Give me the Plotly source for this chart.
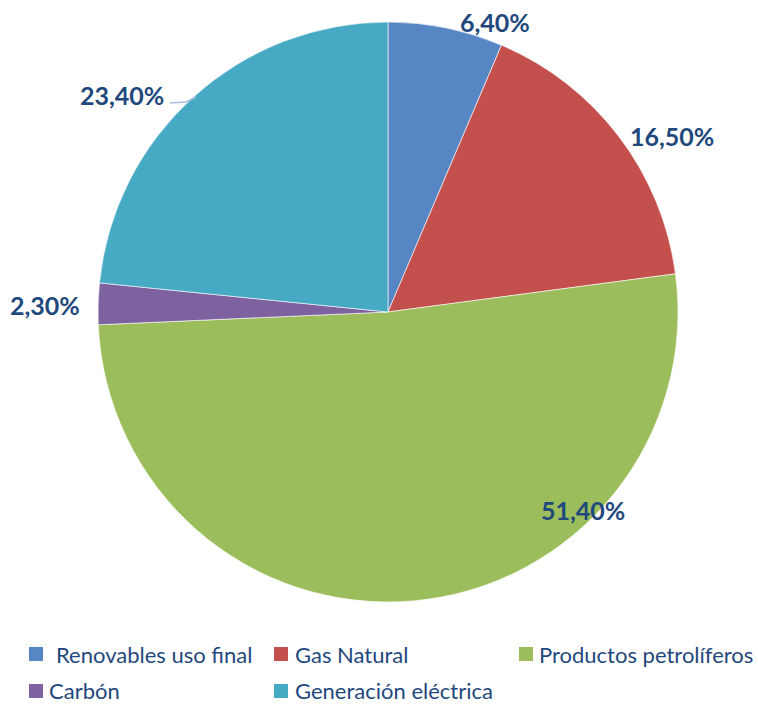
import plotly.graph_objects as go

categories = ["Renovables uso final", "Gas Natural", "Productos petrolíferos", "Carbón", "Generación eléctrica"]
values = [6.4, 16.5, 51.4, 2.3, 23.4]
colors = ["#5687c4", "#c4504d", "#9cbd5b", "#7e62a0", "#47aac4"]

# style / layout only (pixel positions)
label_pos = [(495, 22), (672, 136), (583, 510), (45, 305), (122, 95)]
legend_square_pos = [(29, 647), (274, 647), (519, 647), (29, 684), (274, 684)]
legend_text_x = [55, 294, 538, 48, 294]
legend_row_y = [654, 654, 654, 690, 690]

W, H = 758, 706
fx = lambda px: px / W
fy = lambda py: 1 - py / H

fig = go.Figure()
fig.add_trace(go.Pie(
    labels=categories, values=values, sort=False, direction="clockwise", rotation=0,
    marker=dict(colors=colors, line=dict(color="rgba(255,255,255,0.6)", width=1)),
    textinfo="none", hoverinfo="label+percent", showlegend=False,
    domain=dict(x=[fx(98), fx(678)], y=[fy(602), fy(22)]),
))

# data labels
for v, (px, py) in zip(values, label_pos):
    fig.add_annotation(
        x=fx(px), y=fy(py), xref="paper", yref="paper",
        text=f"{v:.2f}%".replace(".", ","), showarrow=False,
        font=dict(family="Lato", size=25, color="#1F497D", weight="bold"),
        xanchor="center", yanchor="middle",
    )

# leader line for the 23,40% label
fig.add_shape(type="path", xref="paper", yref="paper",
              path=f"M {fx(170)},{fy(103)} L {fx(186)},{fy(102)} L {fx(196)},{fy(97)}",
              line=dict(color="#a9bfe3", width=1.5))

# legend (drawn as shapes + text)
for cat, col, (sx, sy), tx, ty in zip(categories, colors, legend_square_pos, legend_text_x, legend_row_y):
    fig.add_shape(type="rect", xref="paper", yref="paper",
                  x0=fx(sx), x1=fx(sx + 14), y0=fy(sy + 14), y1=fy(sy),
                  fillcolor=col, line=dict(width=0))
    fig.add_annotation(x=fx(tx), y=fy(ty), xref="paper", yref="paper",
                       text=cat, showarrow=False, xanchor="left", yanchor="middle",
                       borderpad=0,
                       font=dict(family="Lato", size=22, color="#1F497D"))

fig.update_layout(
    width=W, height=H, paper_bgcolor="white", plot_bgcolor="white",
    margin=dict(l=0, r=0, t=0, b=0),
    showlegend=False,
)

fig.write_html("out.html", config={"displayModeBar": False},
               post_script="document.body.style.margin='0px';document.body.style.overflow='hidden';")
